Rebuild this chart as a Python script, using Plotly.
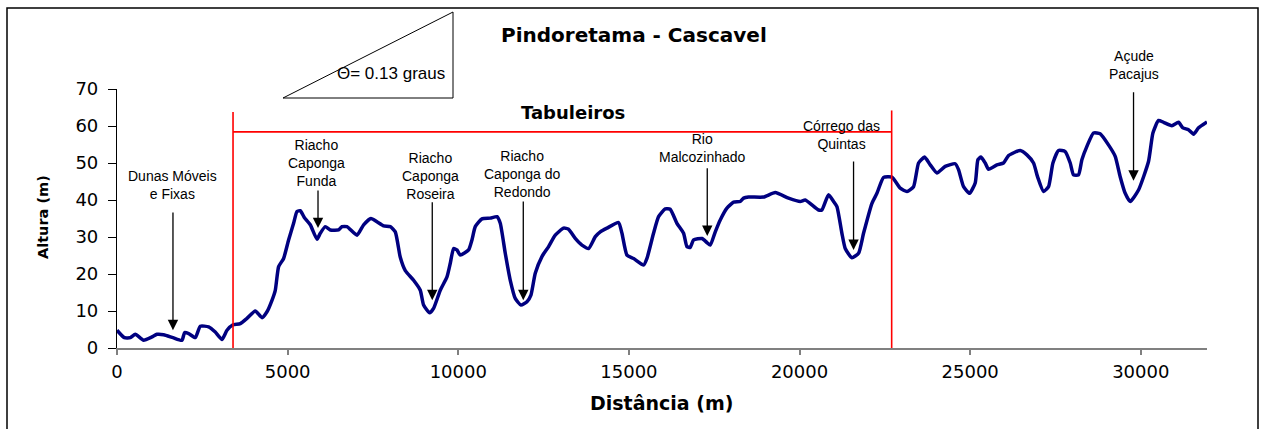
import plotly.graph_objects as go

# Elevation profile Pindoretama - Cascavel: distance (m) and altitude (m)
distancia = [
    0, 214, 393, 536, 780, 1025, 1172, 1367, 1640, 1904, 1982, 2099, 2294, 2441,
    2685, 2880, 3076, 3223, 3388, 3613, 3809, 4052, 4248, 4395, 4541, 4638, 4736,
    4882, 5028, 5175, 5274, 5371, 5488, 5664, 5860, 5957, 6103, 6250, 6494, 6592,
    6739, 7032, 7227, 7442, 7618, 7813, 8008, 8155, 8301, 8448, 8691, 8887, 8984,
    9160, 9277, 9473, 9669, 9766, 9864, 9962, 10059, 10303, 10401, 10498, 10694,
    10938, 11134, 11231, 11377, 11524, 11670, 11837, 12013, 12130, 12256, 12452,
    12647, 12842, 13086, 13232, 13428, 13624, 13820, 14016, 14161, 14357, 14697,
    14797, 14943, 15137, 15430, 15529, 15722, 15869, 16065, 16211, 16407, 16602,
    16701, 16798, 16896, 17141, 17287, 17384, 17531, 17677, 17873, 18068, 18263,
    18361, 18506, 18946, 19288, 19678, 20020, 20167, 20557, 20655, 20850, 20997,
    21096, 21242, 21339, 21535, 21730, 21876, 22122, 22268, 22463, 22707, 22951,
    23147, 23341, 23488, 23664, 23830, 24026, 24269, 24562, 24659, 24806, 24982,
    25148, 25228, 25316, 25441, 25538, 25784, 25977, 26124, 26467, 26663, 26857,
    26974, 27150, 27297, 27425, 27589, 27785, 27932, 28029, 28175, 28274, 28421,
    28614, 28810, 29053, 29250, 29396, 29543, 29690, 29933, 30226, 30355, 30519,
    30665, 30911, 31105, 31234, 31398, 31545, 31692, 31940,
]
altura = [
    4.8, 2.8, 2.8, 3.7, 2.1, 3.0, 3.7, 3.6, 2.8, 2.1, 4.2, 3.9, 2.8, 5.9,
    5.7, 4.3, 2.3, 4.8, 6.2, 6.6, 8.0, 10.0, 8.2, 9.8, 12.9, 15.6, 22.0,
    24.2, 29.2, 33.7, 36.9, 37.1, 35.3, 33.3, 29.4, 31.0, 32.8, 31.9, 31.9, 32.8,
    32.8, 30.5, 33.3, 35.0, 34.1, 33.0, 32.8, 31.4, 24.5, 20.9, 18.3, 15.6, 11.6,
    9.5, 10.7, 15.6, 19.2, 22.9, 26.9, 26.5, 25.1, 26.5, 29.2, 32.8, 34.9,
    35.1, 35.5, 33.7, 25.6, 18.3, 13.4, 11.6, 12.5, 14.3, 20.2, 24.7,
    27.4, 30.5, 32.4, 32.1, 29.6, 27.8, 26.9, 30.1, 31.4, 32.4, 33.9,
    31.0, 25.1, 24.2, 22.4, 24.2, 31.0, 35.5, 37.6, 37.5, 33.7, 31.0,
    27.4, 27.2, 29.2, 29.6, 28.5, 27.8, 31.4, 34.6, 37.8, 39.4, 39.6,
    40.5, 40.8, 40.8, 42.0, 40.5, 39.6, 40.0, 37.3, 37.3, 41.4, 39.6,
    38.2, 31.0, 26.9, 24.4, 25.6, 31.0, 39.1, 41.8, 46.1, 46.2, 43.2,
    42.3, 43.6, 50.0, 51.6, 49.5, 47.3, 49.1, 49.8, 48.2, 43.6, 41.8,
    44.6, 50.9, 51.6, 50.0, 48.3, 49.5, 50.0, 52.0, 53.4, 52.2, 50.0,
    46.3, 42.3, 43.6, 50.0, 53.4, 53.1, 50.0, 46.8, 46.8, 50.9, 54.5,
    58.1, 57.9, 54.9, 51.8, 46.3, 41.8, 39.6, 42.7, 50.4, 58.1, 61.5,
    61.0, 60.1, 61.0, 59.5, 59.0, 57.8, 59.5, 61.1,
]

# Axis ticks
x_ticks = [0, 5000, 10000, 15000, 20000, 25000, 30000]
y_ticks = [0, 10, 20, 30, 40, 50, 60, 70]
X_MAX, Y_MAX = 31940, 70

# Landmarks: label, arrow x, arrow tail y, arrow head y, label x, label centre y
locais = ["Dunas Móveis<br>e Fixas", "Riacho<br>Caponga<br>Funda",
          "Riacho<br>Caponga<br>Roseira", "Riacho<br>Caponga do<br>Redondo",
          "Rio<br>Malcozinhado", "Córrego das<br>Quintas", "Açude<br>Pacajus"]
seta_x = [1640, 5890, 9238, 11905, 17296, 21583, 29787]
seta_inicio = [37.0, 43.0, 39.8, 40.0, 49.0, 50.8, 69.5]
seta_fim = [4.8, 32.4, 12.9, 12.9, 30.3, 26.5, 45.2]
rotulo_x = [1620, 5840, 9200, 11896, 17170, 21236, 29787]
rotulo_y = [44.0, 50.1, 46.5, 47.1, 54.0, 57.6, 76.5]

# "Tabuleiros" zone limits
tabuleiro_inicio = 3400
tabuleiro_fim = 22700
tabuleiro_nivel = 58.4

W, H = 1264, 429
ML, MR, MT, MB = 117, 57, 89, 81


def px(x):
    return (x - ML) / (W - ML - MR)


def py(y):
    return (H - MB - y) / (H - MT - MB)


fig = go.Figure()
fig.add_trace(go.Scatter(
    x=distancia, y=altura, mode="lines",
    line=dict(color="#000080", width=3.5, shape="spline", smoothing=0.5),
    hoverinfo="x+y", showlegend=False,
))

shapes = [
    # outer frame
    dict(type="rect", xref="paper", yref="paper", x0=px(7), x1=px(1258),
         y0=py(445), y1=py(8), line=dict(color="black", width=1.5)),
    # slope triangle
    dict(type="path", xref="paper", yref="paper",
         path=f"M {px(283)},{py(98)} L {px(453)},{py(98)} L {px(453)},{py(12)} Z",
         line=dict(color="black", width=1)),
    # Tabuleiros zone
    dict(type="line", xref="x", yref="y", x0=tabuleiro_inicio, x1=tabuleiro_inicio,
         y0=-0.9, y1=63.8, line=dict(color="#ff0000", width=1.6)),
    dict(type="line", xref="x", yref="y", x0=tabuleiro_fim, x1=tabuleiro_fim,
         y0=-0.9, y1=64.2, line=dict(color="#ff0000", width=1.6)),
    dict(type="line", xref="x", yref="y", x0=tabuleiro_inicio, x1=tabuleiro_fim,
         y0=tabuleiro_nivel, y1=tabuleiro_nivel, line=dict(color="#ff0000", width=1.6)),
]

label_font = dict(family="Liberation Sans, Arial, sans-serif", size=14, color="black")
bold_font = "DejaVu Sans, Verdana, sans-serif"

annotations = []
for nome, lx, ly in zip(locais, rotulo_x, rotulo_y):
    # labels are positioned in axis-domain units so the one above the top
    # of the y range is still drawn
    annotations.append(dict(x=lx / X_MAX, y=ly / Y_MAX, xref="x domain",
                            yref="y domain", text=nome, showarrow=False,
                            xanchor="center", yanchor="middle",
                            font=label_font, align="center"))
for sx, s0, s1 in zip(seta_x, seta_inicio, seta_fim):
    annotations.append(dict(x=sx, y=s1, ax=sx, ay=s0, xref="x", yref="y",
                            axref="x", ayref="y", text="", showarrow=True,
                            arrowhead=2, arrowsize=1.6, arrowwidth=1.3,
                            arrowcolor="black"))

annotations += [
    dict(x=px(634), y=py(35), xref="paper", yref="paper",
         text="<b>Pindoretama - Cascavel</b>", showarrow=False,
         xanchor="center", yanchor="middle",
         font=dict(family=bold_font, size=20, color="black")),
    dict(x=px(573), y=py(112), xref="paper", yref="paper",
         text="<b>Tabuleiros</b>", showarrow=False,
         xanchor="center", yanchor="middle",
         font=dict(family=bold_font, size=18, color="black")),
    dict(x=px(391), y=py(74), xref="paper", yref="paper",
         text="\u0398= 0.13 graus", showarrow=False,
         xanchor="center", yanchor="middle",
         font=dict(family="Liberation Sans, Arial, sans-serif", size=17, color="black")),
    dict(x=px(661), y=py(403), xref="paper", yref="paper",
         text="<b>Distância (m)</b>", showarrow=False,
         xanchor="center", yanchor="middle",
         font=dict(family=bold_font, size=19, color="black")),
    dict(x=px(43), y=py(217), xref="paper", yref="paper",
         text="<b>Altura (m)</b>", showarrow=False, textangle=-90,
         xanchor="center", yanchor="middle",
         font=dict(family=bold_font, size=14.5, color="black")),
]

tick_font = dict(family="DejaVu Sans, Verdana, sans-serif", size=18, color="black")

fig.update_layout(
    width=W, height=H,
    margin=dict(l=ML, r=MR, t=MT, b=MB),
    paper_bgcolor="white", plot_bgcolor="white",
    shapes=shapes, annotations=annotations,
    xaxis=dict(range=[0, X_MAX], tickvals=x_ticks,
               ticktext=[str(v) for v in x_ticks],
               showline=True, linecolor="#808080", linewidth=1.5,
               ticks="outside", ticklen=5, tickcolor="#808080", tickwidth=1.5,
               showgrid=False, zeroline=False, tickfont=tick_font,
               ticklabelstandoff=2),
    yaxis=dict(range=[0, Y_MAX], tickvals=y_ticks,
               ticktext=[str(v) for v in y_ticks],
               showline=True, linecolor="black",
               linewidth=1.2, ticks="outside", ticklen=8, tickcolor="black",
               tickwidth=1.2, showgrid=False, zeroline=False, tickfont=tick_font,
               ticklabelstandoff=6),
)

fig.write_html("out.html")
